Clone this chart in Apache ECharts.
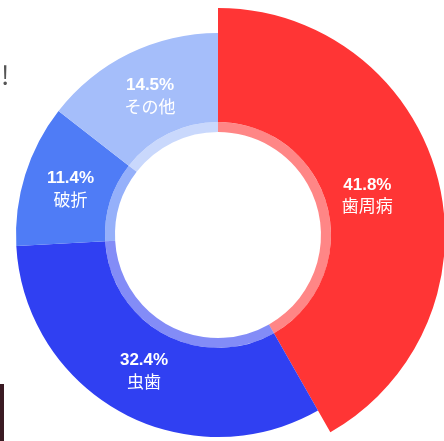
<!DOCTYPE html>
<html>
<head>
<meta charset="utf-8">
<script src="https://cdn.jsdelivr.net/npm/echarts@6/dist/echarts.min.js"></script>
<style>
html,body{margin:0;padding:0;background:#fff;}
#c{width:444px;height:441px;}
</style>
</head>
<body>
<div id="c"></div>
<script>
const categories = ['歯周病', '虫歯', '破折', 'その他'];
const values = [41.8, 32.4, 11.4, 14.5];
const colors = ['#FF3535', '#3040F2', '#4F7CF6', '#A5BEFA'];

const chart = echarts.init(document.getElementById('c'));
const font = '"Noto Sans CJK JP", "Noto Sans", sans-serif';
const numFont = '"Liberation Sans", Arial, sans-serif';

const bigData = categories.map((n, i) => ({
  name: n, value: values[i],
  itemStyle: { color: i === 0 ? colors[0] : 'rgba(0,0,0,0)' }
}));
const mainData = categories.map((n, i) => ({
  name: n, value: values[i],
  itemStyle: { color: i === 0 ? 'rgba(0,0,0,0)' : colors[i] }
}));
const bandData = categories.map((n, i) => ({
  name: n, value: values[i],
  itemStyle: { color: colors[i], opacity: 0.6 }
}));
const labelData = categories.map((n, i) => ({
  name: n, value: values[i],
  itemStyle: { color: 'rgba(0,0,0,0)' }
}));

chart.setOption({
  animation: false,
  graphic: [
    { type: 'text', left: 1, top: 62, style: { text: '!', fontSize: 26, fill: '#555', fontFamily: font } },
    { type: 'rect', shape: { x: 0, y: 384, width: 4, height: 57 }, style: { fill: '#3a1a22' } }
  ],
  series: [
    {
      type: 'pie', center: [218, 235], radius: [113, 227],
      startAngle: 90, silent: true, z: 1,
      label: { show: false }, labelLine: { show: false },
      data: bigData
    },
    {
      type: 'pie', center: [218, 235], radius: [113, 202],
      startAngle: 90, silent: true, z: 2,
      label: { show: false }, labelLine: { show: false },
      data: mainData
    },
    {
      type: 'pie', center: [218, 235], radius: [103, 113],
      startAngle: 90, silent: true, z: 1,
      label: { show: false }, labelLine: { show: false },
      data: bandData
    },
    {
      type: 'pie', center: [218, 235], radius: [103, 200],
      startAngle: 90, silent: true, z: 3,
      labelLine: { show: false },
      label: {
        show: true, position: 'inside',
        formatter: p => '{p|' + p.value + '%}\n{n|' + p.name + '}',
        rich: {
          p: { color: '#fff', fontSize: 17, fontWeight: 'bold', fontFamily: numFont, lineHeight: 21 },
          n: { color: '#fff', fontSize: 17, fontFamily: font, lineHeight: 21 }
        }
      },
      data: labelData
    }
  ]
});
</script>
</body>
</html>
